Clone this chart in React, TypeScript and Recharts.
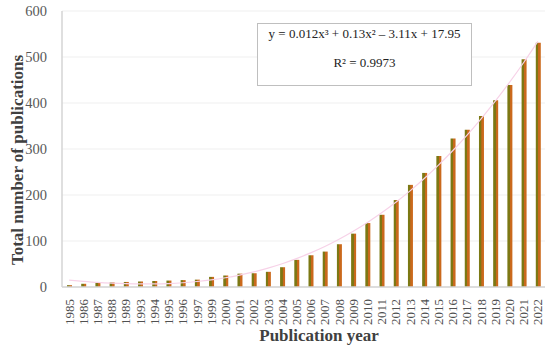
import React from 'react';
import { ComposedChart, Bar, Line, XAxis, YAxis, CartesianGrid } from 'recharts';

const YEARS = [
  '1985', '1986', '1987', '1988', '1989', '1993', '1994', '1995', '1996', '1997',
  '1999', '2000', '2001', '2002', '2003', '2004', '2005', '2006', '2007', '2008',
  '2009', '2010', '2011', '2012', '2013', '2014', '2015', '2016', '2017', '2018',
  '2019', '2020', '2021', '2022',
];

const PUBLICATIONS = [
  4, 7, 9, 10, 11, 12, 13, 14, 15, 16,
  22, 25, 29, 30, 33, 43, 59, 69, 77, 93,
  116, 139, 157, 189, 222, 248, 285, 323, 342, 372,
  406, 439, 495, 531,
];

// polynomial trendline
const TREND = [
  15.0, 12.4, 10.1, 8.4, 7.2, 6.6, 6.7, 7.5, 9.2, 11.9,
  15.4, 20.1, 25.9, 32.8, 41.1, 50.6, 61.6, 74.1, 88.1, 103.8,
  121.1, 140.2, 161.2, 184.1, 209.0, 235.9, 265.0, 296.2, 329.8, 365.7,
  404.0, 444.8, 488.1, 534.1,
];

const Y_TICKS = [0, 100, 200, 300, 400, 500, 600];

const FONT = '"Liberation Serif", "Times New Roman", serif';
const FRAME = '#d4d4d4';

const data = YEARS.map((year, i) => ({ year, count: PUBLICATIONS[i], trend: TREND[i] }));

function YearTick({ x, y, payload }: any) {
  return (
    <text
      x={x}
      y={y}
      transform={`rotate(-90, ${x}, ${y})`}
      textAnchor="end"
      dy="0.35em"
      fontSize={13}
      fontFamily={FONT}
      fill="#505050"
    >
      {payload.value}
    </text>
  );
}

export default function App() {
  return (
    <div style={{ position: 'relative', width: 550, height: 351, background: '#fff' }}>
      <style>{'body{margin:0}'}</style>
      <ComposedChart
        width={550}
        height={351}
        data={data}
        margin={{ top: 11, right: 5, bottom: 0, left: 0 }}
        barCategoryGap="0%"
      >
        <defs>
          <linearGradient id="barFill" x1="0" y1="0" x2="1" y2="0">
            <stop offset="0%" stopColor="#7a7a14" />
            <stop offset="48%" stopColor="#7f7614" />
            <stop offset="52%" stopColor="#c8681c" />
            <stop offset="100%" stopColor="#cc6a1c" />
          </linearGradient>
        </defs>
        <CartesianGrid vertical={false} stroke="#efefef" />
        <XAxis
          dataKey="year"
          interval={0}
          height={64}
          tickLine={false}
          axisLine={{ stroke: FRAME, strokeWidth: 1.5 }}
          tick={<YearTick />}
          tickMargin={6}
        />
        <XAxis xAxisId="top" dataKey="year" orientation="top" height={0} tick={false} tickLine={false} axisLine={{ stroke: FRAME, strokeWidth: 1.5 }} />
        <YAxis
          domain={[0, 600]}
          ticks={Y_TICKS}
          width={62}
          tickLine={false}
          axisLine={{ stroke: FRAME, strokeWidth: 1.5 }}
          tickMargin={9}
          tick={{ fontSize: 14.5, fontFamily: FONT, fill: '#595959' }}
        />
        <YAxis yAxisId="right" orientation="right" width={0} domain={[0, 600]} tick={false} tickLine={false} axisLine={{ stroke: FRAME, strokeWidth: 1.5 }} />
        <Bar dataKey="count" fill="url(#barFill)" barSize={5} isAnimationActive={false} />
        <Line
          dataKey="trend"
          type="monotone"
          stroke="#f7d2e8"
          strokeWidth={1.2}
          dot={false}
          activeDot={false}
          isAnimationActive={false}
        />
      </ComposedChart>

      <div
        style={{
          position: 'absolute',
          left: 18,
          top: 160,
          transform: 'translate(-50%, -50%) rotate(-90deg)',
          whiteSpace: 'nowrap',
          fontFamily: FONT,
          fontWeight: 'bold',
          fontSize: 17,
          color: '#404040',
        }}
      >
        Total number of publications
      </div>
      <div
        style={{
          position: 'absolute',
          left: 319,
          top: 336,
          transform: 'translate(-50%, -50%)',
          whiteSpace: 'nowrap',
          fontFamily: FONT,
          fontWeight: 'bold',
          fontSize: 17,
          color: '#404040',
        }}
      >
        Publication year
      </div>

      <div
        style={{
          position: 'absolute',
          left: 257,
          top: 23,
          width: 213,
          height: 61,
          border: '1px solid #bfbfbf',
          background: '#fff',
          fontFamily: FONT,
          fontSize: 13,
          color: '#222',
          textAlign: 'center',
        }}
      >
        <div style={{ marginTop: 2 }}>y = 0.012x³ + 0.13x² – 3.11x + 17.95</div>
        <div style={{ marginTop: 13 }}>R² = 0.9973</div>
      </div>
    </div>
  );
}
